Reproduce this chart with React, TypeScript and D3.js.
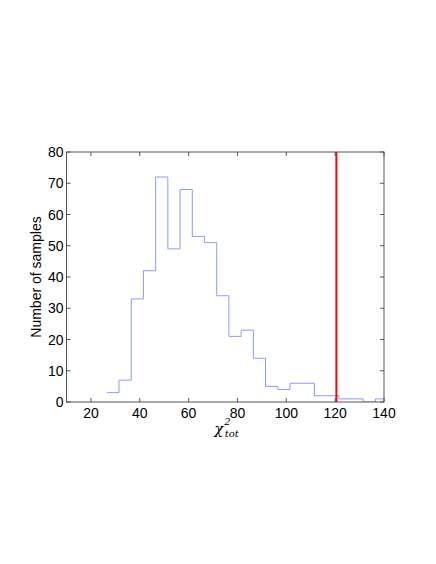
import React from "react";
import * as d3 from "d3";

// histogram of chi^2_tot over samples, bin edges
const binStarts = [26.5, 31.5, 36.5, 41.5, 46.5, 51.5, 56.5, 61.5, 66.5, 71.5, 76.5, 81.5, 86.5, 91.5, 96.5, 101.5, 106.5, 111.5, 116.5, 121.5, 126.5, 131.5, 136.5];
const binEnd = 141.5;
const counts = [3, 7, 33, 42, 72, 49, 68, 53, 51, 34, 21, 23, 14, 5, 4, 6, 6, 2, 2, 1, 1, 0, 1];
const threshold = 120.5;
const xTicks = [20, 40, 60, 80, 100, 120, 140];
const yTicks = [0, 10, 20, 30, 40, 50, 60, 70, 80];

const W = 436;
const H = 564;
const left = 66.5, right = 384, top = 152, bottom = 402;

export default function App() {
  const x = d3.scaleLinear().domain([10, 140]).range([left, right]);
  const y = d3.scaleLinear().domain([0, 80]).range([bottom, top]);

  const pts: [number, number][] = binStarts.map((b, i) => [b, counts[i]]);
  pts.push([binEnd, counts[counts.length - 1]]);
  const stairs = d3
    .line<[number, number]>()
    .x(d => x(d[0]))
    .y(d => y(d[1]))
    .curve(d3.curveStepAfter)(pts) || "";

  const axisColor = "#555";
  const font = "'Liberation Sans', Arial, Helvetica, sans-serif";
  const tl = 4;

  return (
    <svg width={W} height={H} style={{ position: "absolute", left: 0, top: 0, background: "#fff" }}>
      <defs>
        <clipPath id="plotArea">
          <rect x={left} y={top} width={right - left} height={bottom - top} />
        </clipPath>
      </defs>
      <rect x={0} y={0} width={W} height={H} fill="#fff" />
      <g clipPath="url(#plotArea)">
        <path d={stairs} fill="none" stroke="#8a98ff" strokeWidth={1} />
      </g>
      <line x1={x(threshold)} x2={x(threshold)} y1={y(80)} y2={y(0)} stroke="#ff0000" strokeWidth={2} />

      <g stroke={axisColor} strokeWidth={1} fill="none">
        <rect x={left} y={top} width={right - left} height={bottom - top} />
        {xTicks.map(t => (
          <g key={"xt" + t}>
            <line x1={x(t)} x2={x(t)} y1={bottom} y2={bottom - tl} />
            <line x1={x(t)} x2={x(t)} y1={top} y2={top + tl} />
          </g>
        ))}
        {yTicks.map(t => (
          <g key={"yt" + t}>
            <line x1={left} x2={left + tl} y1={y(t)} y2={y(t)} />
            <line x1={right} x2={right - tl} y1={y(t)} y2={y(t)} />
          </g>
        ))}
      </g>

      <g fontFamily={font} fontSize={14} fill="#000">
        {xTicks.map(t => (
          <text key={"xl" + t} x={x(t)} y={418} textAnchor="middle">{t}</text>
        ))}
        {yTicks.map(t => (
          <text key={"yl" + t} x={left - 3} y={y(t) + 5} textAnchor="end">{t}</text>
        ))}
        <text transform={`translate(41,${(top + bottom) / 2}) rotate(-90)`} textAnchor="middle">
          Number of samples
        </text>
      </g>

      <text x={x(75.5)} y={434} fontFamily="'DejaVu Serif', 'Liberation Serif', serif" fontStyle="italic" fontSize={15} textAnchor="middle">
        χ
        <tspan fontSize={10} dx={1} dy={-9}>2</tspan>
        <tspan fontSize={10} dx={-6} dy={12}>tot</tspan>
      </text>
    </svg>
  );
}
